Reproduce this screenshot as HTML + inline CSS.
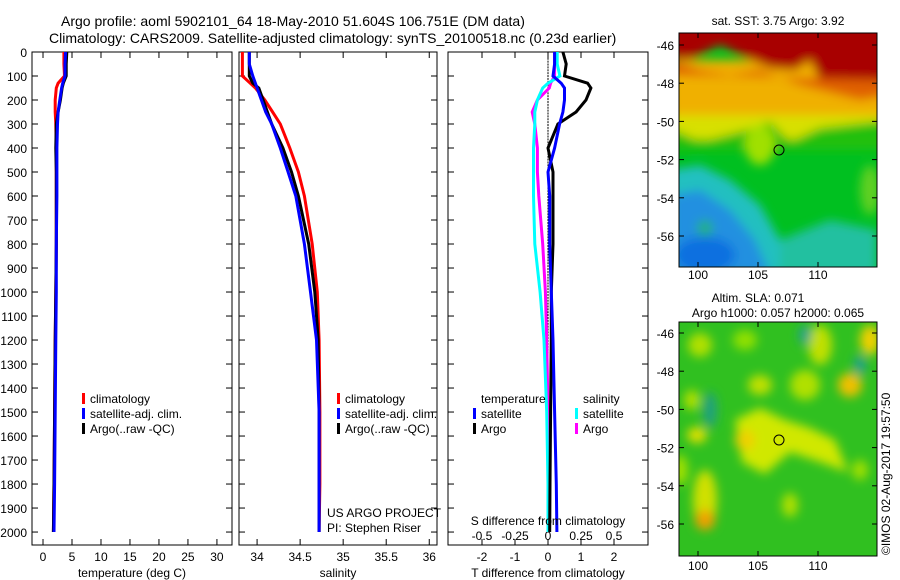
<!DOCTYPE html>
<html><head><meta charset="utf-8"><style>
body{margin:0;background:#fff;}
svg{display:block;font-family:"Liberation Sans",sans-serif;}
text{fill:#000;}
</style></head><body>
<svg id="fig" width="900" height="580" viewBox="0 0 900 580">
<defs>
<filter id="bl" x="-20%" y="-20%" width="140%" height="140%"><feGaussianBlur stdDeviation="5"/></filter>
<clipPath id="c1"><rect x="679" y="33" width="198" height="234"/></clipPath>
<clipPath id="c2"><rect x="679" y="322" width="198" height="234"/></clipPath>
</defs>
<text x="61" y="26" font-size="14">Argo profile: aoml 5902101_64 18-May-2010 51.604S 106.751E (DM data)</text>
<text x="49" y="43" font-size="14">Climatology: CARS2009. Satellite-adjusted climatology: synTS_20100518.nc (0.23d earlier)</text>

<g>
<text x="778" y="25" font-size="12" text-anchor="middle">sat. SST: 3.75 Argo: 3.92</text>
<g clip-path="url(#c1)">
<rect x="679" y="33" width="198" height="234" fill="#00c020"/>
<g filter="url(#bl)">
<rect x="670" y="60" width="220" height="80" fill="#d8e000"/>
<rect x="670" y="60" width="220" height="55" fill="#f0b000"/>
<path d="M670 20 H890 V95 L860 85 L820 80 L810 60 L795 70 L770 68 L740 55 L720 45 L690 60 L670 58Z" fill="#a80000"/>
<path d="M670 60 L700 70 L730 75 L760 70 L800 85 L840 95 L860 100 L890 95 V80 L670 75Z" fill="#e06000"/>
<path d="M670 128 L700 142 L740 132 L770 122 L790 142 L820 128 L890 120 V150 H670Z" fill="#20c010"/>
<ellipse cx="760" cy="145" rx="15" ry="20" fill="#a0e000"/>
<path d="M670 170 L700 165 L730 180 L760 205 L780 240 L790 275 H670Z" fill="#20c0c0"/>
<path d="M672 195 L700 190 L730 210 L755 240 L770 275 H672Z" fill="#2090e0"/>
<ellipse cx="705" cy="255" rx="30" ry="18" fill="#1070e0"/>
<ellipse cx="705" cy="228" rx="8" ry="8" fill="#20b080"/>
<path d="M780 240 L830 220 L877 230 V275 H780Z" fill="#20c0a0"/>
<ellipse cx="870" cy="190" rx="10" ry="25" fill="#60d020"/>
</g>
</g>
<rect x="679" y="33" width="198" height="234" fill="none" stroke="#000"/>
<circle cx="779" cy="150" r="5" fill="none" stroke="#000"/>
</g>

<g>
<text x="758" y="302" font-size="12" text-anchor="middle">Altim. SLA: 0.071</text>
<text x="778" y="317" font-size="12" text-anchor="middle">Argo h1000: 0.057 h2000: 0.065</text>
<g clip-path="url(#c2)">
<rect x="679" y="322" width="198" height="234" fill="#30c020"/>
<g filter="url(#bl)">
<ellipse cx="700" cy="345" rx="12" ry="12" fill="#b0e000"/>
<ellipse cx="745" cy="340" rx="12" ry="10" fill="#90e000"/>
<ellipse cx="820" cy="345" rx="12" ry="20" fill="#c0e000"/>
<ellipse cx="870" cy="340" rx="10" ry="15" fill="#f0d000"/>
<ellipse cx="805" cy="335" rx="6" ry="10" fill="#20a090"/>
<ellipse cx="860" cy="365" rx="6" ry="10" fill="#20a090"/>
<ellipse cx="850" cy="385" rx="12" ry="12" fill="#f0c000"/>
<ellipse cx="760" cy="385" rx="12" ry="10" fill="#c0e000"/>
<ellipse cx="805" cy="385" rx="15" ry="15" fill="#b0e000"/>
<path d="M735 420 L760 408 L785 420 L810 428 L835 440 L848 472 L820 462 L790 452 L765 474 L742 462Z" fill="#d0e800"/>
<ellipse cx="745" cy="440" rx="10" ry="10" fill="#f0d000"/>
<ellipse cx="692" cy="400" rx="8" ry="10" fill="#b0e000"/>
<ellipse cx="697" cy="435" rx="10" ry="8" fill="#e0e000"/>
<ellipse cx="710" cy="410" rx="7" ry="18" fill="#20a080"/>
<ellipse cx="705" cy="500" rx="12" ry="30" fill="#d0e000"/>
<ellipse cx="705" cy="520" rx="10" ry="10" fill="#f0a000"/>
<ellipse cx="790" cy="505" rx="8" ry="12" fill="#b0e000"/>
<ellipse cx="860" cy="470" rx="8" ry="10" fill="#a0e000"/>
<ellipse cx="680" cy="470" rx="8" ry="15" fill="#a0e000"/>
</g>
</g>
<rect x="679" y="322" width="198" height="234" fill="none" stroke="#000"/>
<circle cx="779" cy="440" r="5" fill="none" stroke="#000"/>
</g>
<text transform="translate(890,555) rotate(-90)" font-size="12">©IMOS 02-Aug-2017 19:57:50</text>
<g id="plots"></g>
</svg>
<script>
const NS="http://www.w3.org/2000/svg";
const depthTicks=[0,100,200,300,400,500,600,700,800,900,1000,1100,1200,1300,1400,1500,1600,1700,1800,1900,2000];
const tempTicks=[0,5,10,15,20,25,30];
const salTicks=[34,34.5,35,35.5,36];
const tdTicks=[-2,-1,0,1,2];
const sdTicks=[-0.5,-0.25,0,0.25,0.5];
const sdTickLabels=["-0.5","-0.25","0","0.25","0.5"];
const mapLat=[-46,-48,-50,-52,-54,-56];
const mapLon=[100,105,110];
// profile depths
const depth=[0,50,100,130,150,200,250,300,400,500,600,800,1000,1200,1500,1800,2000];
const tClim=[3.6,3.6,3.7,2.6,2.3,2.1,2.1,2.2,2.3,2.3,2.3,2.3,2.2,2.1,2.0,1.9,1.8];
const tSat=[3.9,3.8,3.8,3.4,3.2,2.9,2.6,2.5,2.4,2.4,2.4,2.3,2.3,2.2,2.1,2.0,1.9];
const tArgo=[4.1,4.0,4.0,3.5,3.3,3.0,2.6,2.3,2.2,2.3,2.3,2.3,2.2,2.1,2.0,1.9,1.8];
const sClim=[33.83,33.83,33.83,33.92,33.98,34.09,34.18,34.27,34.38,34.48,34.55,34.64,34.70,34.72,34.73,34.73,34.72];
const sSat=[33.91,33.91,33.95,33.98,34.0,34.05,34.1,34.17,34.27,34.36,34.45,34.55,34.62,34.69,34.72,34.72,34.72];
const sArgo=[33.91,33.91,33.91,33.95,34.02,34.07,34.12,34.17,34.3,34.4,34.48,34.6,34.67,34.71,34.72,34.72,34.72];
const tdSat=[0.2,0.2,0.15,0.4,0.5,0.5,0.45,0.35,0.2,0.0,0.05,0.05,0.1,0.15,0.2,0.25,0.27];
const tdArgo=[0.45,0.55,0.5,1.2,1.3,1.15,0.85,0.3,0.0,0.15,0.15,0.15,0.1,0.1,0.08,0.06,0.05];
const sdSat=[0.07,0.07,0.09,0.0,-0.04,-0.08,-0.1,-0.1,-0.11,-0.11,-0.11,-0.1,-0.06,-0.03,-0.01,0.0,0.0];
const sdArgo=[0.05,0.05,0.05,0.02,0.01,-0.08,-0.12,-0.1,-0.08,-0.08,-0.07,-0.04,-0.02,-0.01,0.0,0.01,0.01];

const root=document.getElementById('plots');
function el(tag,attrs,parent){const e=document.createElementNS(NS,tag);for(const k in attrs)e.setAttribute(k,attrs[k]);(parent||root).appendChild(e);return e;}
const top_=52,bot=545,dMax=2054;
const yD=d=>top_+d*(bot-top_)/dMax;
function panel(name,x0,x1,lo,hi){
  const g=el('g',{});
  
  
  const r=el('rect',{x:x0,y:top_,width:x1-x0,height:bot-top_,fill:'none',stroke:'#000'},g);
  
  
  return {g,x:v=>x0+(v-lo)*(x1-x0)/(hi-lo),x0,x1};
}
function xticks(p,ticks,labels,ly){
  ticks.forEach((t,i)=>{const x=p.x(t);
    el('line',{x1:x,x2:x,y1:top_,y2:top_+6,stroke:'#000'},p.g);
    el('line',{x1:x,x2:x,y1:bot,y2:bot-6,stroke:'#000'},p.g);
    const tx=el('text',{x:x,y:ly,'font-size':12,'text-anchor':'middle'},p.g);
    tx.textContent=labels?labels[i]:String(t);
    
    
  });
}
function yticks(p){depthTicks.forEach(d=>{const y=yD(d);
  el('line',{x1:p.x0,x2:p.x0+6,y1:y,y2:y,stroke:'#000'},p.g);
  el('line',{x1:p.x1,x2:p.x1-6,y1:y,y2:y,stroke:'#000'},p.g);});}
function line(p,vals,color,name){
  const pts=vals.map((v,i)=>p.x(v).toFixed(1)+','+yD(depth[i]).toFixed(1)).join(' ');
  const l=el('polyline',{points:pts,fill:'none',stroke:color,'stroke-width':3},p.g);
  
  
}
function label(g,x,y,s,name,anchor){const t=el('text',{x:x,y:y,'font-size':12,'text-anchor':anchor||'start'},g);t.textContent=s;
  
  return t;}
function legend(g,x,y,color,s,name){
  const m=el('rect',{x:x,y:y-10,width:3,height:11,fill:color},g);
  
  
  label(g,x+8,y,s,name);
}
const p1=panel('temperature-panel',32,232,-1.9,32.6);
yticks(p1);
depthTicks.forEach(d=>{const t=el('text',{x:27,y:yD(d)+5,'font-size':12,'text-anchor':'end'},p1.g);t.textContent=d;
  
  });
xticks(p1,tempTicks,null,561);
line(p1,tClim,'#ff0000','temp-climatology-line');
line(p1,tArgo,'#000000','temp-argo-line');
line(p1,tSat,'#0000ff','temp-satellite-line');
label(p1.g,132,577,'temperature (deg C)','x-axis-title-temperature','middle');
legend(p1.g,82,403,'#ff0000','climatology','legend-climatology');
legend(p1.g,82,418,'#0000ff','satellite-adj. clim.','legend-satellite');
legend(p1.g,82,433,'#000000','Argo(..raw -QC)','legend-argo');
const p2=panel('salinity-panel',239,437,33.79,36.09);
yticks(p2);
xticks(p2,salTicks,null,561);
line(p2,sClim,'#ff0000','sal-climatology-line');
line(p2,sArgo,'#000000','sal-argo-line');
line(p2,sSat,'#0000ff','sal-satellite-line');
label(p2.g,338,577,'salinity','x-axis-title-salinity','middle');
legend(p2.g,337,403,'#ff0000','climatology','legend-climatology-2');
legend(p2.g,337,418,'#0000ff','satellite-adj. clim.','legend-satellite-2');
legend(p2.g,337,433,'#000000','Argo(..raw -QC)','legend-argo-2');
label(p2.g,327,517,'US ARGO PROJECT','project-label');
label(p2.g,327,532,'PI: Stephen Riser','pi-label');
const p3=panel('difference-panel',448,648,-3.03,3.03);
const p3s={g:p3.g,x:v=>548+v*132,x0:448,x1:648};
yticks(p3);
xticks(p3,tdTicks,null,561);
sdTicks.forEach((t,i)=>{const tx=el('text',{x:p3s.x(t),y:540,'font-size':12,'text-anchor':'middle'},p3.g);tx.textContent=sdTickLabels[i];
  
  });
for(let d=0;d<=2000;d+=12){el('rect',{x:p3.x(0)-0.5,y:yD(d),width:1,height:2,fill:'#000'},p3.g);}
line(p3s,sdArgo,'#ff00ff','sdiff-argo-line');
line(p3s,sdSat,'#00ffff','sdiff-satellite-line');
line(p3,tdArgo,'#000000','tdiff-argo-line');
line(p3,tdSat,'#0000ff','tdiff-satellite-line');
label(p3.g,548,525,'S difference from climatology','s-diff-axis-title','middle');
label(p3.g,548,577,'T difference from climatology','t-diff-axis-title','middle');
label(p3.g,481,403,'temperature','legend-temperature-header');
legend(p3.g,473,418,'#0000ff','satellite','legend-t-satellite');
legend(p3.g,473,433,'#000000','Argo','legend-t-argo');
label(p3.g,583,403,'salinity','legend-salinity-header');
legend(p3.g,575,418,'#00ffff','satellite','legend-s-satellite');
legend(p3.g,575,433,'#ff00ff','Argo','legend-s-argo');
function mapAxes(yTop,lat0y,lonY,name){
  const g=el('g',{});
  
  
  mapLat.forEach((lat,i)=>{const y=lat0y+(-46-lat)*19.1;
    el('line',{x1:679,x2:684,y1:y,y2:y,stroke:'#000'},g);
    el('line',{x1:877,x2:872,y1:y,y2:y,stroke:'#000'},g);
    const t=el('text',{x:674,y:y+5,'font-size':12,'text-anchor':'end'},g);t.textContent=lat;
    
    });
  mapLon.forEach(lon=>{const x=698+(lon-100)*12;
    el('line',{x1:x,x2:x,y1:yTop,y2:yTop+5,stroke:'#000'},g);
    el('line',{x1:x,x2:x,y1:yTop+234,y2:yTop+229,stroke:'#000'},g);
    const t=el('text',{x:x,y:lonY,'font-size':12,'text-anchor':'middle'},g);t.textContent=lon;
    
    });
}
mapAxes(33,45,279,'sst-map-axes');
mapAxes(322,333,570,'sla-map-axes');
</script>
</body></html>
